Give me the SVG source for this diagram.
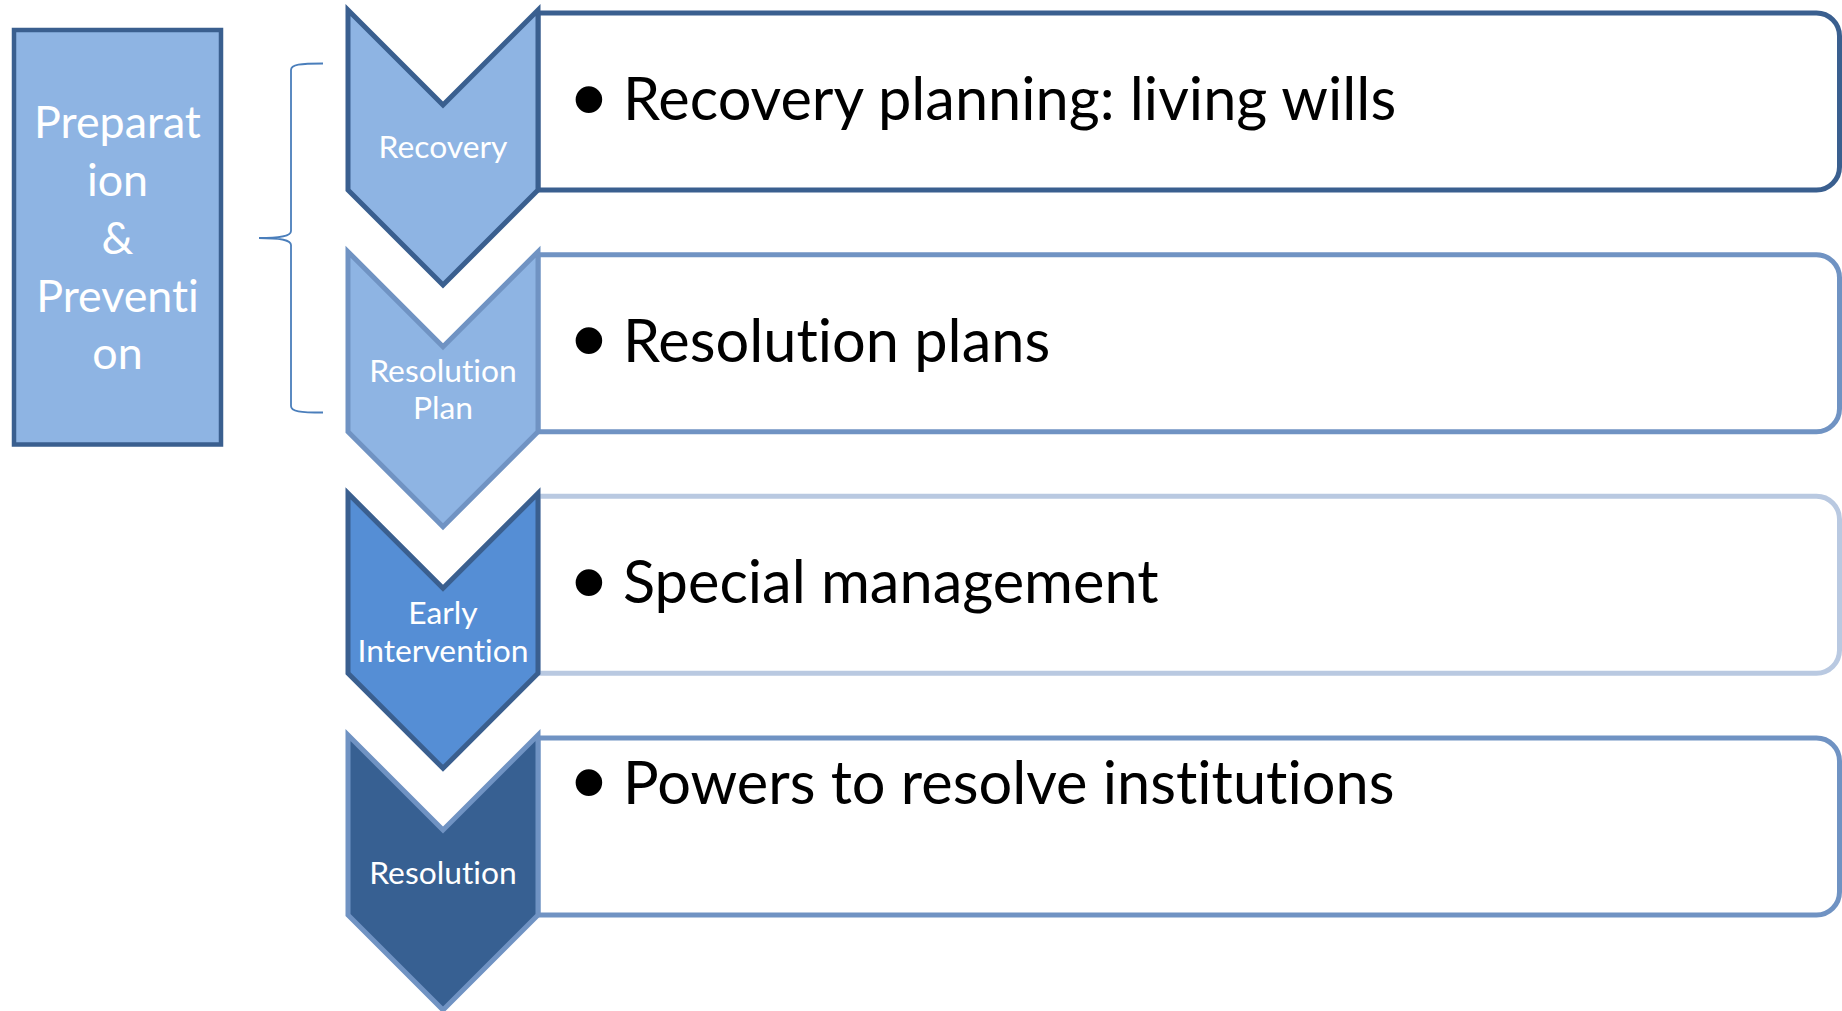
<svg xmlns="http://www.w3.org/2000/svg" width="1842" height="1011" viewBox="0 0 1842 1011">
  <style>
    text { font-variant-ligatures: none; }
    .bg { fill: #ffffff; }
    .side { fill: #8eb4e3; stroke: #3a5f8f; stroke-width: 4.5; }
    .side-text { font-family: Lato, "Open Sans", sans-serif; font-size: 44.8px; fill: #ffffff; text-anchor: middle; }
    .brace { fill: none; stroke: #4a7ebb; stroke-width: 1.8; }
    .box { fill: #ffffff; stroke-width: 5; }
    .chev { stroke-width: 5; stroke-linejoin: miter; }
    .chev-text { font-family: Lato, "Open Sans", sans-serif; font-size: 31.8px; fill: #ffffff; text-anchor: middle; }
    .item { font-family: Lato, "Open Sans", sans-serif; font-size: 59.5px; fill: #000000; }
    .dot { font-family: "Liberation Sans", Arial, sans-serif; font-size: 98px; fill: #000000; text-anchor: middle; }
    .dark { stroke: #3a5f8f; }
    .mid { stroke: #7093c3; }
    .pale { stroke: #b9c9e1; }
    .f-light { fill: #8eb4e3; }
    .f-blue { fill: #558ed5; }
    .f-navy { fill: #376092; }
  </style>
  <defs>
    <!-- chevron pointing down, 190 wide, origin at its top-left corner -->
    <polygon id="chevron" points="0,0 95,95 190,0 190,180 95,275 0,180"/>
    <!-- list box with rounded right corners; left edge sits under the chevron -->
    <path id="listbox" d="M190,3 H1468.5 A23,23 0 0 1 1491.5,26 V157 A23,23 0 0 1 1468.5,180 H190 Z"/>
  </defs>

  <rect class="bg" x="0" y="0" width="1842" height="1011"/>

  <!-- summary box on the left -->
  <g id="node-preparation">
    <rect class="side" x="14" y="30" width="207" height="414.5"/>
    <text class="side-text" x="117.5" y="137.5">Preparat</text>
    <text class="side-text" x="117.5" y="195.5">ion</text>
    <text class="side-text" x="117.5" y="253.5">&amp;</text>
    <text class="side-text" x="117.5" y="311.5">Preventi</text>
    <text class="side-text" x="117.5" y="369">on</text>
  </g>

  <!-- brace grouping the first two stages -->
  <g id="connectors">
    <path class="brace" d="M323,63.5 C300,63.5 291,64.5 291,70 L291,231 C291,236 281,238 259,238 C281,238 291,240 291,245 L291,406 C291,411.5 300,412.5 323,412.5"/>
  </g>

  <!-- stage rows: chevron + description box -->
  <g id="node-recovery" transform="translate(348,10)">
    <use href="#listbox" class="box dark"/>
    <use href="#chevron" class="chev dark f-light"/>
    <text class="chev-text" x="95" y="148">Recovery</text>
    <text class="dot" x="241" y="121.5">•</text>
    <text class="item" x="275" y="110">Recovery planning: living wills</text>
  </g>

  <g id="node-resolution-plan" transform="translate(348,251.7)">
    <use href="#listbox" class="box mid"/>
    <use href="#chevron" class="chev mid f-light"/>
    <text class="chev-text" x="95" y="130.3">Resolution</text>
    <text class="chev-text" x="95" y="167.8">Plan</text>
    <text class="dot" x="241" y="121.5">•</text>
    <text class="item" x="275" y="110">Resolution plans</text>
  </g>

  <g id="node-early-intervention" transform="translate(348,493.3)">
    <use href="#listbox" class="box pale"/>
    <use href="#chevron" class="chev dark f-blue"/>
    <text class="chev-text" x="95" y="131">Early</text>
    <text class="chev-text" x="95" y="168.5">Intervention</text>
    <text class="dot" x="241" y="121.5">•</text>
    <text class="item" x="275" y="110">Special management</text>
  </g>

  <g id="node-resolution" transform="translate(348,735)">
    <use href="#listbox" class="box mid"/>
    <use href="#chevron" class="chev mid f-navy"/>
    <text class="chev-text" x="95" y="148.5">Resolution</text>
    <text class="dot" x="241" y="79.5">•</text>
    <text class="item" x="275" y="68.5">Powers to resolve institutions</text>
  </g>
</svg>
